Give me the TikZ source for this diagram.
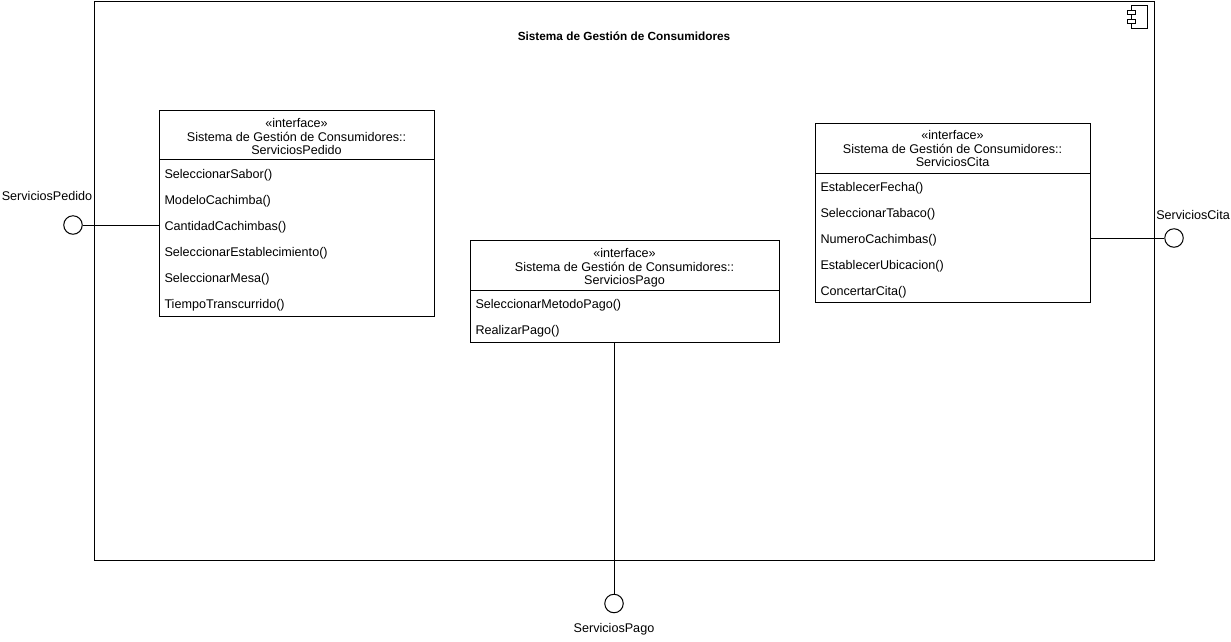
\documentclass[tikz,border=0pt]{standalone}
\usepackage{fontspec}
\setmainfont{Liberation Sans}
\begin{document}
\begin{tikzpicture}[x=1pt,y=-1pt, line width=1pt,
  box/.style={draw, rectangle, inner sep=0pt, fill=white, anchor=north west},
  txt/.style={inner sep=0pt, text height=8pt, text depth=4pt, yshift=-3pt, font=\fontsize{12.6}{14}\selectfont},
  meth/.style={txt, anchor=west},
  lolli/.style={draw, circle, minimum size=18.5pt, inner sep=0pt, fill=white}]
\useasboundingbox (0,0) rectangle (1231,641);
% component
\node[box, minimum width=1060pt, minimum height=559pt] (comp) at (94,1) {};
\node[txt, font=\bfseries\fontsize{11.8}{14}\selectfont] (title) at (624,35) {Sistema de Gestión de Consumidores};
% component icon
\draw (1131,5) rectangle (1147,28);
\draw[fill=white] (1127,10) rectangle (1135,14);
\draw[fill=white] (1127,19) rectangle (1135,23);
% ServiciosPedido
\node[box, minimum width=275pt, minimum height=206pt] (ped) at (159,110) {};
\draw (159,159) -- (434,159);
\node[txt] (pedh1) at (296.5,122) {«interface»};
\node[txt] (pedh2) at (296.5,136) {Sistema de Gestión de Consumidores::};
\node[txt] (pedh3) at (296.5,149) {ServiciosPedido};
\node[meth] (pm1) at (164,173) {SeleccionarSabor()};
\node[meth] (pm2) at (164,199) {ModeloCachimba()};
\node[meth] (pm3) at (164,225) {CantidadCachimbas()};
\node[meth] (pm4) at (164,251) {SeleccionarEstablecimiento()};
\node[meth] (pm5) at (164,277) {SeleccionarMesa()};
\node[meth] (pm6) at (164,303) {TiempoTranscurrido()};
% ServiciosPago
\node[box, minimum width=309pt, minimum height=102pt] (pago) at (470,240) {};
\draw (470,290) -- (779,290);
\node[txt] (pagh1) at (624.5,252) {«interface»};
\node[txt] (pagh2) at (624.5,266) {Sistema de Gestión de Consumidores::};
\node[txt] (pagh3) at (624.5,279) {ServiciosPago};
\node[meth] (gm1) at (475,303) {SeleccionarMetodoPago()};
\node[meth] (gm2) at (475,329) {RealizarPago()};
% ServiciosCita
\node[box, minimum width=275pt, minimum height=179pt] (cita) at (815,123) {};
\draw (815,173) -- (1090,173);
\node[txt] (cith1) at (952.5,134) {«interface»};
\node[txt] (cith2) at (952.5,148) {Sistema de Gestión de Consumidores::};
\node[txt] (cith3) at (952.5,161) {ServiciosCita};
\node[meth] (cm1) at (820,186) {EstablecerFecha()};
\node[meth] (cm2) at (820,212) {SeleccionarTabaco()};
\node[meth] (cm3) at (820,238) {NumeroCachimbas()};
\node[meth] (cm4) at (820,264) {EstablecerUbicacion()};
\node[meth] (cm5) at (820,290) {ConcertarCita()};
% lollipops
\node[lolli] (lped) at (73,225) {};
\node[txt] (lpedl) at (47,195) {ServiciosPedido};
\draw (lped.east) -- (lped.east -| ped.west);
\node[lolli] (lpago) at (614,603.5) {};
\node[txt] (lpagol) at (614,627) {ServiciosPago};
\draw (lpago.north) -- (lpago.north |- pago.south);
\node[lolli] (lcita) at (1174,238) {};
\node[txt] (lcital) at (1193,214) {ServiciosCita};
\draw (lcita.west) -- (lcita.west -| cita.east);
\end{tikzpicture}
\end{document}
